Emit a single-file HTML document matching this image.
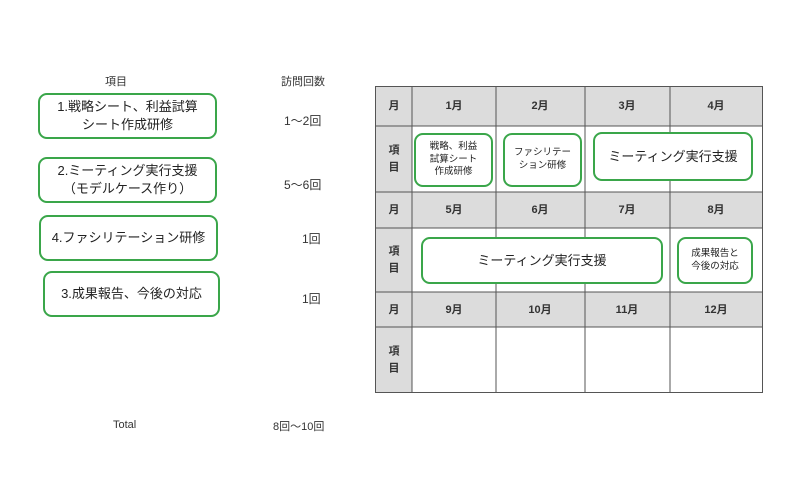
<!DOCTYPE html><html><head><meta charset="utf-8"><style>
body{margin:0;width:800px;height:500px;background:#fff;position:relative;font-family:"Liberation Sans","Noto Sans CJK JP",sans-serif;color:#333;overflow:hidden}
.a{position:absolute}
.b{position:absolute;border:2px solid #3aa64a;border-radius:9px;box-sizing:border-box;display:flex;align-items:center;justify-content:center;text-align:center;background:#fff;line-height:1.35;color:#222}
.t{position:absolute;font-size:11px;white-space:nowrap}
.c{position:absolute;font-size:11px;font-weight:bold;transform:translate(-50%,-50%);white-space:nowrap;line-height:1.5;text-align:center}
</style></head><body>
<div class="t" style="left:105px;top:73px">項目</div>
<div class="t" style="left:281px;top:73px">訪問回数</div>
<div class="b" style="left:38px;top:93px;width:179px;height:46px;font-size:13px">1.戦略シート、利益試算<br>シート作成研修</div>
<div class="b" style="left:38px;top:157px;width:179px;height:46px;font-size:13px">2.ミーティング実行支援<br>（モデルケース作り）</div>
<div class="b" style="left:39px;top:215px;width:179px;height:46px;font-size:13px">4.ファシリテーション研修</div>
<div class="b" style="left:43px;top:271px;width:177px;height:46px;font-size:13px">3.成果報告、今後の対応</div>
<div class="t" style="left:284px;top:112px;font-size:12px">1～2回</div>
<div class="t" style="left:284px;top:176px;font-size:12px">5～6回</div>
<div class="t" style="left:302px;top:230px;font-size:12px">1回</div>
<div class="t" style="left:302px;top:290px;font-size:12px">1回</div>
<div class="t" style="left:113px;top:419px">Total</div>
<div class="t" style="left:273px;top:418px">8回～10回</div>

<svg class="a" style="left:0;top:0" width="800" height="500">
<rect x="375" y="86" width="387" height="40" fill="#dcdcdc"/>
<rect x="375" y="192" width="387" height="36" fill="#dcdcdc"/>
<rect x="375" y="292" width="387" height="35" fill="#dcdcdc"/>
<rect x="375" y="86" width="37" height="306" fill="#dcdcdc"/>
<g stroke="#555" stroke-width="1" fill="none">
<rect x="375.5" y="86.5" width="387" height="306"/>
<line x1="412" y1="86" x2="412" y2="392"/>
<line x1="496" y1="86" x2="496" y2="392"/>
<line x1="585" y1="86" x2="585" y2="392"/>
<line x1="670" y1="86" x2="670" y2="392"/>
<line x1="375" y1="126" x2="762" y2="126"/>
<line x1="375" y1="192" x2="762" y2="192"/>
<line x1="375" y1="228" x2="762" y2="228"/>
<line x1="375" y1="292" x2="762" y2="292"/>
<line x1="375" y1="327" x2="762" y2="327"/>
</g></svg>
<div class="c" style="left:394px;top:106px">月</div>
<div class="c" style="left:454px;top:106px">1月</div>
<div class="c" style="left:540px;top:106px">2月</div>
<div class="c" style="left:627px;top:106px">3月</div>
<div class="c" style="left:716px;top:106px">4月</div>
<div class="c" style="left:394px;top:159px">項<br>目</div>
<div class="c" style="left:394px;top:210px">月</div>
<div class="c" style="left:454px;top:210px">5月</div>
<div class="c" style="left:540px;top:210px">6月</div>
<div class="c" style="left:627px;top:210px">7月</div>
<div class="c" style="left:716px;top:210px">8月</div>
<div class="c" style="left:394px;top:260px">項<br>目</div>
<div class="c" style="left:394px;top:310px">月</div>
<div class="c" style="left:454px;top:310px">9月</div>
<div class="c" style="left:540px;top:310px">10月</div>
<div class="c" style="left:627px;top:310px">11月</div>
<div class="c" style="left:716px;top:310px">12月</div>
<div class="c" style="left:394px;top:360px">項<br>目</div>
<div class="b" style="left:414px;top:133px;width:79px;height:54px;font-size:9.5px">戦略、利益<br>試算シート<br>作成研修</div>
<div class="b" style="left:503px;top:133px;width:79px;height:54px;font-size:9.5px">ファシリテー<br>ション研修</div>
<div class="b" style="left:593px;top:132px;width:160px;height:49px;font-size:13px">ミーティング実行支援</div>
<div class="b" style="left:421px;top:237px;width:242px;height:47px;font-size:13px">ミーティング実行支援</div>
<div class="b" style="left:677px;top:237px;width:76px;height:47px;font-size:9.5px">成果報告と<br>今後の対応</div>
</body></html>
